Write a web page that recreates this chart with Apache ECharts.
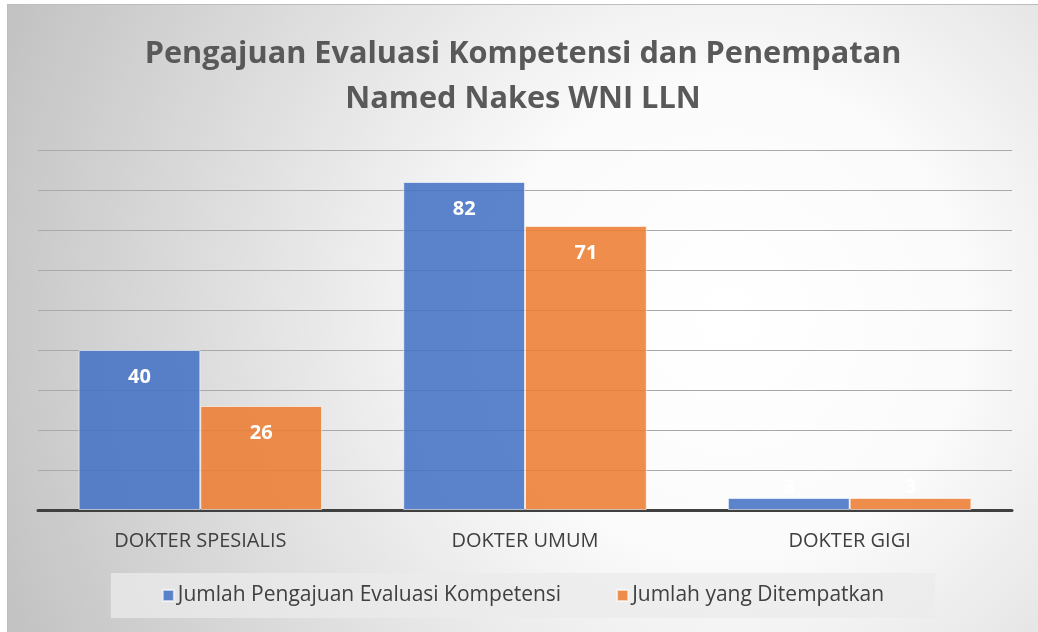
<!DOCTYPE html>
<html>
<head>
<meta charset="utf-8">
<script src="https://cdn.jsdelivr.net/npm/echarts@6/dist/echarts.min.js"></script>
<style>
html,body{margin:0;padding:0;background:#fff;width:1038px;height:632px;overflow:hidden;}
#c{position:absolute;left:7px;top:4px;width:1031px;height:628px;border-top:1px solid #bdbdbd;border-left:1px solid #bdbdbd;box-sizing:border-box;}
</style>
</head>
<body>
<div id="c"></div>
<script>
const titleText = 'Pengajuan Evaluasi Kompetensi dan Penempatan\nNamed Nakes WNI LLN';
const categories = ['DOKTER SPESIALIS', 'DOKTER UMUM', 'DOKTER GIGI'];
const seriesNames = ['Jumlah Pengajuan Evaluasi Kompetensi', 'Jumlah yang Ditempatkan'];
const pengajuan = [40, 82, 3];
const ditempatkan = [26, 71, 3];
const yMax = 90;
const yInterval = 10;

const FONT = '"Open Sans", Lato, sans-serif';

function mkData(arr) {
  return arr.map(v => v < 10
    ? { value: v, label: { position: 'top', distance: 1 } }
    : v);
}

const chart = echarts.init(document.getElementById('c'), null, { renderer: 'canvas' });
chart.setOption({
  backgroundColor: {
    type: 'radial', x: 0.7, y: 0.5, r: 1.25,
    colorStops: [
      { offset: 0, color: '#ffffff' },
      { offset: 0.3, color: '#fbfbfb' },
      { offset: 1, color: '#c2c2c2' }
    ]
  },
  animation: false,
  title: {
    text: titleText,
    left: 'center',
    top: 22,
    textStyle: { fontFamily: FONT, fontWeight: 'bold', fontSize: 30.7, color: '#595959', lineHeight: 45 }
  },
  grid: { left: 30, right: 26, top: 145, bottom: 122, containLabel: false },
  xAxis: {
    type: 'category',
    data: categories,
    axisLine: { lineStyle: { color: '#404040', width: 3 } },
    axisTick: { show: false },
    axisLabel: { fontFamily: FONT, fontSize: 20, color: '#404040', margin: 21 }
  },
  yAxis: {
    type: 'value',
    min: 0, max: yMax, interval: yInterval,
    axisLine: { show: false },
    axisTick: { show: false },
    axisLabel: { show: false },
    splitLine: { lineStyle: { color: '#a9a9a9', width: 1 } }
  },
  legend: {
    data: seriesNames,
    left: 'center',
    top: 568,
    backgroundColor: 'rgba(235,235,235,0.75)',
    padding: [12, 51, 12, 51],
    itemGap: 55,
    itemWidth: 11,
    itemHeight: 11,
    icon: 'rect',
    textStyle: { fontFamily: FONT, fontSize: 21, color: '#404040', padding: [0, 0, 0, -1] }
  },
  series: [
    {
      name: seriesNames[0], type: 'bar', data: mkData(pengajuan),
      barGap: '0%', barCategoryGap: '25%',
      itemStyle: { color: 'rgba(68,114,196,0.87)', borderColor: 'rgba(255,255,255,0.6)', borderWidth: 1 },
      label: { show: true, position: 'insideTop', distance: 17, color: '#ffffff', fontFamily: FONT, fontWeight: 'bold', fontSize: 20 }
    },
    {
      name: seriesNames[1], type: 'bar', data: mkData(ditempatkan),
      itemStyle: { color: 'rgba(237,125,49,0.87)', borderColor: 'rgba(255,255,255,0.6)', borderWidth: 1 },
      label: { show: true, position: 'insideTop', distance: 17, color: '#ffffff', fontFamily: FONT, fontWeight: 'bold', fontSize: 20 }
    }
  ]
});
</script>
</body>
</html>
